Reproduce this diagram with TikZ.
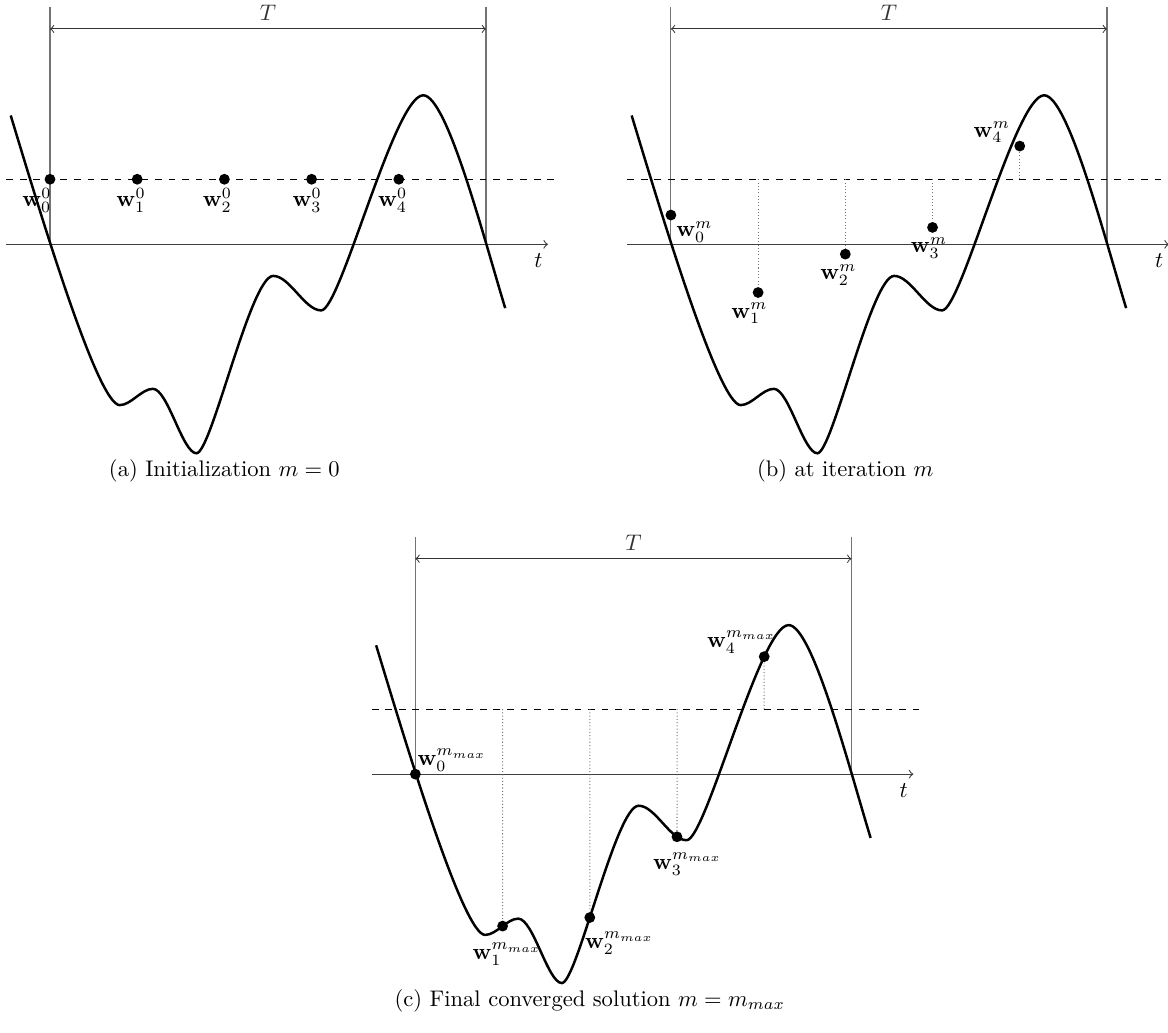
\documentclass[tikz,border=0pt]{standalone}
\usetikzlibrary{positioning,intersections}

\tikzset{
  signal/.style={line width=1.1pt},
  frame/.style={black!55,line width=0.5pt},
  span/.style={black!80,line width=0.45pt,<->},
  taxis/.style={black!75,line width=0.5pt,->},
  level/.style={dashed,line width=0.5pt},
  guide/.style={black!55,densely dotted,line width=0.45pt},
  wdot/.style={circle,fill=black,inner sep=0pt,minimum size=4.8pt},
}

% the same signal in every panel
\newcommand{\drawsignal}[1]{%
  \draw[signal,#1] (-0.45,1.98) .. controls (-0.1,0.43) and (0.55,-2.47) .. (0.8,-2.47)
    .. controls (0.93,-2.47) and (1.05,-2.22) .. (1.18,-2.22)
    .. controls (1.35,-2.22) and (1.52,-3.21) .. (1.68,-3.21)
    .. controls (1.85,-3.21) and (2.3,-0.485) .. (2.56,-0.485)
    .. controls (2.75,-0.485) and (2.92,-1.015) .. (3.11,-1.015)
    .. controls (3.33,-1.015) and (3.95,2.29) .. (4.28,2.29)
    .. controls (4.55,2.29) and (4.97,0.12) .. (5.22,-0.98);}

\begin{document}
\begin{tikzpicture}[x=1.36cm,y=1.015cm]
\useasboundingbox (-0.573,-12.108) rectangle (12.82,3.754);

% (a) initialization
\begin{scope}
\draw[frame] (0,0) -- (0,3.64);
\draw[frame] (5,0) -- (5,3.64);
\coordinate (aT0) at (0,3.31);
\coordinate (aT5) at (5,3.31);
\draw[span] (aT0) -- node[above] (aTl) {$T$} (aT5);
\coordinate (aax0) at (-0.5,0);
\coordinate (aax1) at (5.71,0);
\draw[taxis] (aax0) -- (aax1);
\node (atl) at (5.6,-0.25) {$t$};
\draw[level] (-0.5,1) -- (5.78,1);
\drawsignal{}
\node[wdot] (aw0) at (0,1) {};
\node[wdot] (aw1) at (1,1) {};
\node[wdot] (aw2) at (2,1) {};
\node[wdot] (aw3) at (3,1) {};
\node[wdot] (aw4) at (4,1) {};
\node (al0) at (-0.15,0.68) {$\mathbf{w}_0^0$};
\node (al1) at (0.93,0.68) {$\mathbf{w}_1^0$};
\node (al2) at (1.92,0.68) {$\mathbf{w}_2^0$};
\node (al3) at (2.95,0.68) {$\mathbf{w}_3^0$};
\node (al4) at (3.93,0.68) {$\mathbf{w}_4^0$};
\node (acap) at (2,-3.48) {(a) Initialization $m=0$};
\end{scope}

% (b) iteration m
\begin{scope}[shift={(7.12,0)}]
\draw[frame] (0,0) -- (0,3.64);
\draw[frame] (5,0) -- (5,3.64);
\coordinate (bT0) at (0,3.31);
\coordinate (bT5) at (5,3.31);
\draw[span] (bT0) -- node[above] (bTl) {$T$} (bT5);
\coordinate (bax0) at (-0.5,0);
\coordinate (bax1) at (5.71,0);
\draw[taxis] (bax0) -- (bax1);
\node (btl) at (5.6,-0.25) {$t$};
\draw[level] (-0.5,1) -- (5.78,1);
\drawsignal{}
\coordinate (bd1) at (1,1);
\coordinate (bd2) at (2,1);
\coordinate (bd3) at (3,1);
\coordinate (bd4) at (4,1);
\node[wdot] (bw0) at (0,0.45) {};
\node[wdot] (bw1) at (1,-0.74) {};
\node[wdot] (bw2) at (2,-0.15) {};
\node[wdot] (bw3) at (3,0.26) {};
\node[wdot] (bw4) at (4,1.51) {};
\draw[guide] (bd1) -- (bw1);
\draw[guide] (bd2) -- (bw2);
\draw[guide] (bd3) -- (bw3);
\draw[guide] (bd4) -- (bw4);
\node (bl0) at (0.27,0.19) {$\mathbf{w}_0^m$};
\node (bl1) at (0.9,-1.06) {$\mathbf{w}_1^m$};
\node (bl2) at (1.92,-0.47) {$\mathbf{w}_2^m$};
\node (bl3) at (2.96,-0.06) {$\mathbf{w}_3^m$};
\node (bl4) at (3.68,1.72) {$\mathbf{w}_4^m$};
\node (bcap) at (2,-3.48) {(b) at iteration $m$};
\end{scope}

% (c) converged
\begin{scope}[shift={(4.19,-8.14)}]
\draw[frame] (0,0) -- (0,3.64);
\draw[frame] (5,0) -- (5,3.64);
\coordinate (cT0) at (0,3.31);
\coordinate (cT5) at (5,3.31);
\draw[span] (cT0) -- node[above] (cTl) {$T$} (cT5);
\coordinate (cax0) at (-0.5,0);
\coordinate (cax1) at (5.71,0);
\draw[taxis] (cax0) -- (cax1);
\node (ctl) at (5.6,-0.25) {$t$};
\draw[level] (-0.5,1) -- (5.78,1);
\drawsignal{name path=csig}
\path[name path=ccut1] (1,-4) -- (1,3);
\path[name path=ccut2] (2,-4) -- (2,3);
\path[name path=ccut3] (3,-4) -- (3,3);
\path[name path=ccut4] (4,-4) -- (4,3);
\path[name intersections={of=csig and ccut1,by=cp1}];
\path[name intersections={of=csig and ccut2,by=cp2}];
\path[name intersections={of=csig and ccut3,by=cp3}];
\path[name intersections={of=csig and ccut4,by=cp4}];
\coordinate (cd1) at (1,1);
\coordinate (cd2) at (2,1);
\coordinate (cd3) at (3,1);
\coordinate (cd4) at (4,1);
\node[wdot] (cw0) at (0,0) {};
\node[wdot] (cw1) at (cp1) {};
\node[wdot] (cw2) at (cp2) {};
\node[wdot] (cw3) at (cp3) {};
\node[wdot] (cw4) at (cp4) {};
\draw[guide] (cd1) -- (cw1);
\draw[guide] (cd2) -- (cw2);
\draw[guide] (cd3) -- (cw3);
\draw[guide] (cd4) -- (cw4);
\node (cl0) at (0.42,0.21) {$\mathbf{w}_0^{m_{max}}$};
\node (cl1) at (1.05,-2.77) {$\mathbf{w}_1^{m_{max}}$};
\node (cl2) at (2.34,-2.6) {$\mathbf{w}_2^{m_{max}}$};
\node (cl3) at (3.12,-1.38) {$\mathbf{w}_3^{m_{max}}$};
\node (cl4) at (3.74,2.03) {$\mathbf{w}_4^{m_{max}}$};
\node (ccap) at (2,-3.48) {(c) Final converged solution $m=m_{max}$};
\end{scope}
\end{tikzpicture}
\end{document}
